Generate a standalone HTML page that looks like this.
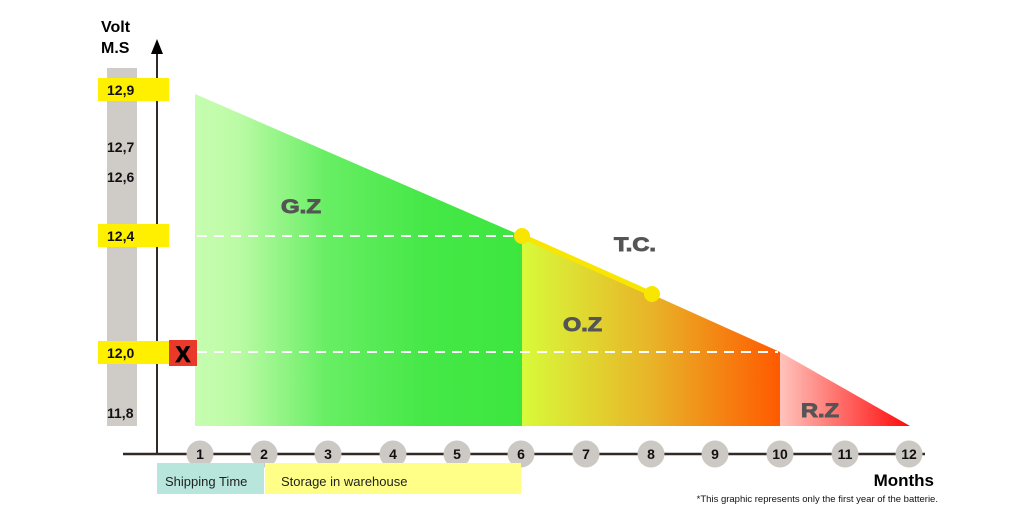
<!DOCTYPE html>
<html><head><style>
html,body{margin:0;padding:0;background:#fff;}
svg{display:block;font-family:"Liberation Sans",Arial,sans-serif;}
</style></head><body>
<svg width="1024" height="525" viewBox="0 0 1024 525" xmlns="http://www.w3.org/2000/svg">
<defs>
<linearGradient id="g" x1="195" x2="522" y1="0" y2="0" gradientUnits="userSpaceOnUse">
<stop offset="0" stop-color="#c6fdb0"/><stop offset="0.13" stop-color="#bcfba6"/><stop offset="0.4" stop-color="#68ee64"/><stop offset="0.7" stop-color="#46e848"/><stop offset="1" stop-color="#3de63f"/></linearGradient>
<linearGradient id="o" x1="522" x2="780" y1="0" y2="0" gradientUnits="userSpaceOnUse">
<stop offset="0" stop-color="#d8fa3a"/><stop offset="0.5" stop-color="#e8b428"/><stop offset="1" stop-color="#ff5a00"/></linearGradient>
<linearGradient id="r" x1="780" x2="910" y1="0" y2="0" gradientUnits="userSpaceOnUse">
<stop offset="0" stop-color="#ffc4bc"/><stop offset="1" stop-color="#ff0a0a"/></linearGradient>
</defs>
<rect x="107" y="68" width="30" height="358" fill="#cfccc8"/>
<polygon points="195,94 522,236 522,426 195,426" fill="url(#g)"/>
<polygon points="522,236 780,352 780,426 522,426" fill="url(#o)"/>
<polygon points="780,352 910,426 780,426" fill="url(#r)"/>
<line x1="197" y1="236" x2="515" y2="236" stroke="#fff" stroke-width="2" stroke-dasharray="10,7"/>
<line x1="197" y1="352" x2="778" y2="352" stroke="#fff" stroke-width="2" stroke-dasharray="10,7"/>
<line x1="522" y1="236" x2="652" y2="294" stroke="#f8e600" stroke-width="5"/>
<circle cx="522" cy="236" r="8" fill="#f8e600"/><circle cx="652" cy="294" r="8" fill="#f8e600"/>
<line x1="157" y1="52" x2="157" y2="454" stroke="#332a28" stroke-width="2"/>
<polygon points="157,39 151,54 163,54" fill="#000"/>
<line x1="123" y1="454" x2="925" y2="454" stroke="#332a28" stroke-width="2.5"/>
<g font-weight="bold" font-size="16" fill="#000">
<text x="101" y="32">Volt</text><text x="101" y="53">M.S</text>
</g>
<g font-weight="bold" font-size="14" fill="#111">
<rect x="98" y="78" width="71" height="23" fill="#fff000"/><text x="107" y="95">12,9</text>
<text x="107" y="152">12,7</text><text x="107" y="182">12,6</text>
<rect x="98" y="224" width="71" height="23" fill="#fff000"/><text x="107" y="241">12,4</text>
<rect x="98" y="341" width="71" height="23" fill="#fff000"/><text x="107" y="358">12,0</text>
<text x="107" y="418">11,8</text>
</g>
<rect x="169" y="340" width="28" height="26" fill="#e8392a"/>
<text x="183" y="362" font-weight="bold" font-size="22" text-anchor="middle" fill="#000" stroke="#000" stroke-width="0.8">X</text>
<g font-weight="bold" font-size="19" fill="#555" stroke="#555" stroke-width="0.9">
<text x="281" y="213" textLength="40" lengthAdjust="spacingAndGlyphs">G.Z</text>
<text x="614" y="251" textLength="42" lengthAdjust="spacingAndGlyphs">T.C.</text>
<text x="563" y="331" textLength="39" lengthAdjust="spacingAndGlyphs">O.Z</text>
<text x="801" y="417" textLength="38" lengthAdjust="spacingAndGlyphs">R.Z</text>
</g>
<g font-weight="bold" font-size="14" fill="#111" text-anchor="middle">
<circle cx="200" cy="454" r="13.5" fill="#ccc9c4"/><text x="200" y="459">1</text>
<circle cx="264" cy="454" r="13.5" fill="#ccc9c4"/><text x="264" y="459">2</text>
<circle cx="328" cy="454" r="13.5" fill="#ccc9c4"/><text x="328" y="459">3</text>
<circle cx="393" cy="454" r="13.5" fill="#ccc9c4"/><text x="393" y="459">4</text>
<circle cx="457" cy="454" r="13.5" fill="#ccc9c4"/><text x="457" y="459">5</text>
<circle cx="521" cy="454" r="13.5" fill="#ccc9c4"/><text x="521" y="459">6</text>
<circle cx="586" cy="454" r="13.5" fill="#ccc9c4"/><text x="586" y="459">7</text>
<circle cx="651" cy="454" r="13.5" fill="#ccc9c4"/><text x="651" y="459">8</text>
<circle cx="715" cy="454" r="13.5" fill="#ccc9c4"/><text x="715" y="459">9</text>
<circle cx="780" cy="454" r="13.5" fill="#ccc9c4"/><text x="780" y="459">10</text>
<circle cx="845" cy="454" r="13.5" fill="#ccc9c4"/><text x="845" y="459">11</text>
<circle cx="909" cy="454" r="13.5" fill="#ccc9c4"/><text x="909" y="459">12</text>
</g>
<rect x="157" y="463" width="107" height="31" fill="#b8e6dc"/>
<rect x="265" y="463" width="256" height="31" fill="#ffff88"/>
<text x="165" y="486" font-size="13" fill="#222">Shipping Time</text>
<text x="281" y="486" font-size="13" fill="#222">Storage in warehouse</text>
<text x="934" y="486" font-size="17" font-weight="bold" fill="#000" text-anchor="end">Months</text>
<text x="938" y="502" font-size="9.5" fill="#111" text-anchor="end">*This graphic represents only the first year of the batterie.</text>
</svg>
</body></html>
